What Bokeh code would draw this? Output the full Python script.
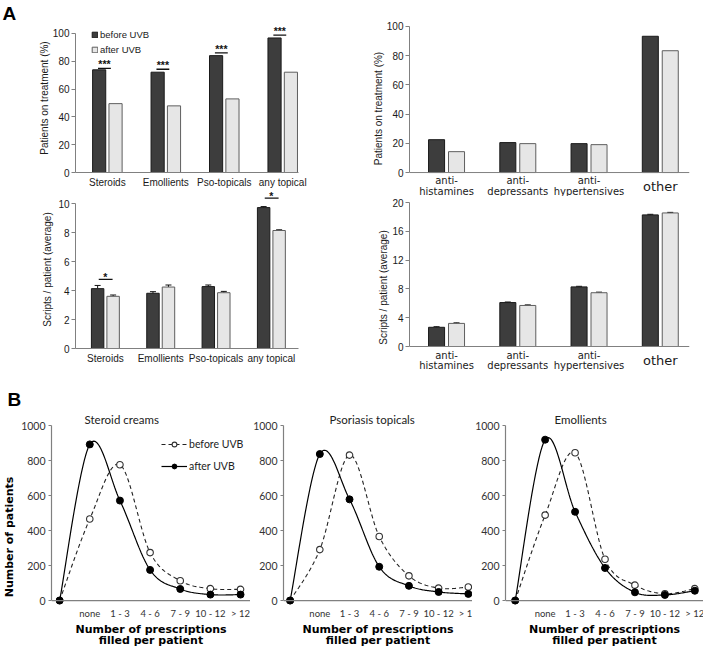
import numpy as np
from bokeh.plotting import figure
from bokeh.layouts import column, row
from bokeh.models import (ColumnDataSource, FixedTicker, Legend, LegendItem,
                          Whisker, TeeHead, Span, Title)
from bokeh.core.properties import value
from bokeh.embed import file_html
from bokeh.resources import INLINE

# ---------------- data ----------------
topical_cats = ["Steroids", "Emollients", "Pso-topicals", "any topical"]
topical_pct_before = [73.8, 72.1, 84.0, 96.7]
topical_pct_after = [49.5, 47.9, 52.9, 72.1]
pct_sig_text = ["***", "***", "***", "***"]
pct_sig_y = [74.8, 74.2, 86.0, 98.7]

other_cats = ["anti-\nhistamines", "anti-\ndepressants", "anti-\nhypertensives", "other"]
other_pct_before = [22.5, 20.5, 19.8, 93.3]
other_pct_after = [14.3, 19.8, 19.1, 83.4]

topical_scr_before = [4.13, 3.81, 4.27, 9.72]
topical_scr_before_err = [0.22, 0.11, 0.11, 0.07]
topical_scr_after = [3.60, 4.24, 3.85, 8.14]
topical_scr_after_err = [0.09, 0.14, 0.09, 0.05]
scr_sig_idx = [0, 3]
scr_sig_text = ["*", "*"]
scr_sig_y = [4.77, 10.37]

other_scr_before = [2.67, 6.10, 8.28, 18.28]
other_scr_before_err = [0.08, 0.08, 0.08, 0.08]
other_scr_after = [3.21, 5.70, 7.47, 18.55]
other_scr_after_err = [0.08, 0.08, 0.08, 0.08]

presc_cats = ["", "none", "1 - 3", "4 - 6", "7 - 9", "10 - 12", "> 12"]
presc_title = "Number of prescriptions\nfilled per patient"
steroid_before = [0, 466, 776, 274, 113, 68, 64]
steroid_after = [0, 892, 571, 175, 66, 34, 34]
psoriasis_before = [0, 291, 831, 366, 141, 71, 77]
psoriasis_after = [0, 837, 578, 193, 84, 49, 38]
emollient_before = [0, 488, 844, 236, 88, 39, 68]
emollient_after = [0, 919, 507, 186, 47, 32, 56]

# ---------------- styles ----------------
DARK_FILL, DARK_LINE = "#3d3d3d", "#1a1a1a"
LIGHT_FILL, LIGHT_LINE = "#e6e6e6", "#5e5e5e"
AXIS_COL = "#808080"
TXT = "#1a1a1a"
ARIAL = "Liberation Sans"
WIDE = "DejaVu Sans"
CAL = "Lato"


def base_fig(width, height, xr, yr, mbl, mbr, mbt, mbb):
    p = figure(width=width, height=height, x_range=xr, y_range=yr,
               output_backend="svg", toolbar_location=None,
               min_border_left=mbl, min_border_right=mbr,
               min_border_top=mbt, min_border_bottom=mbb)
    p.outline_line_color = None
    p.xgrid.grid_line_color = None
    p.ygrid.grid_line_color = None
    p.background_fill_color = "white"
    p.border_fill_color = "white"
    for ax in (p.xaxis[0], p.yaxis[0]):
        ax.axis_line_color = AXIS_COL
        ax.major_tick_line_color = AXIS_COL
        ax.minor_tick_line_color = None
        ax.major_label_text_color = TXT
    return p


def style_yaxis(p, yticks, ybound, ylabel, ylabel_standoff):
    ya = p.yaxis[0]
    ya.ticker = FixedTicker(ticks=yticks)
    ya.bounds = ybound
    ya.major_tick_out = 4
    ya.major_tick_in = 0
    ya.major_label_standoff = 2
    ya.major_label_text_font = ARIAL
    ya.major_label_text_font_size = "10px"
    ya.axis_label = ylabel
    ya.axis_label_text_font = ARIAL
    ya.axis_label_text_font_size = "10px"
    ya.axis_label_text_font_style = "normal"
    ya.axis_label_text_color = TXT
    ya.axis_label_standoff = ylabel_standoff


def bars(p, n, before, after, before_err=None, after_err=None, off=0.14, bw=0.225):
    idx = list(range(n))
    xb = [i - off for i in idx]
    xa = [i + off for i in idx]
    src = ColumnDataSource(dict(xb=xb, xa=xa, before=before, after=after))
    rb = p.vbar(x="xb", top="before", width=bw, bottom=0, source=src,
                fill_color=DARK_FILL, line_color=DARK_LINE, line_width=1)
    ra = p.vbar(x="xa", top="after", width=bw, bottom=0, source=src,
                fill_color=LIGHT_FILL, line_color=LIGHT_LINE, line_width=1)
    if before_err is not None:
        esrc = ColumnDataSource(dict(
            xb=xb, xa=xa,
            lb=before, ub=[v + e for v, e in zip(before, before_err)],
            la=after, ua=[v + e for v, e in zip(after, after_err)]))
        for b, lo, up in (("xb", "lb", "ub"), ("xa", "la", "ua")):
            p.add_layout(Whisker(source=esrc, base=b, lower=lo, upper=up,
                                 dimension="height", line_color="#111111", line_width=1,
                                 upper_head=TeeHead(size=6, line_color="#111111", line_width=1),
                                 lower_head=None))
    return rb, ra


def topical_panel(width, height, mbl, mbr, mbt, mbb, xr, yr, yticks, ybound,
                  before, after, ylabel, before_err=None, after_err=None, ylabel_standoff=0):
    p = base_fig(width, height, xr, yr, mbl, mbr, mbt, mbb)
    rb, ra = bars(p, len(topical_cats), before, after, before_err, after_err)
    xa_ = p.xaxis[0]
    xa_.ticker = FixedTicker(ticks=list(range(len(topical_cats))))
    xa_.major_label_overrides = {i: c for i, c in enumerate(topical_cats)}
    xa_.major_tick_out = 0
    xa_.major_tick_in = 0
    xa_.major_label_standoff = 4
    xa_.major_label_text_font = ARIAL
    xa_.major_label_text_font_size = "10px"
    style_yaxis(p, yticks, ybound, ylabel, ylabel_standoff)
    return p, rb, ra


def other_panel(width, height, mbl, mbr, mbt, xr, yr, yticks, ybound,
                before, after, ylabel, line_offsets, other_offset,
                before_err=None, after_err=None):
    p = base_fig(width, height, xr, yr, mbl, mbr, mbt, 0)
    bars(p, len(other_cats), before, after, before_err, after_err)
    p.xaxis.visible = False
    p.add_layout(Span(location=0, dimension="width", line_color=AXIS_COL, line_width=1))
    style_yaxis(p, yticks, ybound, ylabel, 0)
    two = [(i, c.split("\n")) for i, c in enumerate(other_cats) if "\n" in c]
    one = [(i, c) for i, c in enumerate(other_cats) if "\n" not in c]
    for k, off in enumerate(line_offsets):
        p.text(x=[i for i, _ in two], y=[0] * len(two), text=[parts[k] for _, parts in two],
               y_offset=off, text_align="center", text_baseline="middle",
               text_font=value(WIDE), text_font_size="10px", text_color=TXT)
    p.text(x=[i for i, _ in one], y=[0] * len(one), text=[c for _, c in one],
           y_offset=other_offset, text_align="center", text_baseline="middle",
           text_font=value(WIDE), text_font_size="13px", text_color=TXT)
    return p


# ---------- A1: patients on topical treatment ----------
a1, rb1, ra1 = topical_panel(352, 190, 74, 54, 22, 18, (-0.545, 3.27), (0, 107.1),
                             [0, 20, 40, 60, 80, 100], (0, 100),
                             topical_pct_before, topical_pct_after,
                             "Patients on treatment (%)")
for i, (t, y) in enumerate(zip(pct_sig_text, pct_sig_y)):
    a1.segment(x0=[i - 0.16], y0=[y], x1=[i + 0.06], y1=[y], line_color="#111111", line_width=1.3)
a1.text(x=[i - 0.05 for i in range(len(pct_sig_y))], y=pct_sig_y, text=pct_sig_text,
        y_offset=2, text_align="center", text_baseline="bottom",
        text_font=value(ARIAL), text_font_size="10.5px", text_font_style="bold",
        text_color="#111111")
leg = Legend(items=[LegendItem(label="before UVB", renderers=[rb1]),
                    LegendItem(label="after UVB", renderers=[ra1])],
             location=(16, 117), orientation="vertical")
leg.background_fill_alpha = 0
leg.border_line_color = None
leg.padding = 0
leg.margin = 0
leg.spacing = 4
leg.glyph_width = 7
leg.glyph_height = 7
leg.label_height = 9
leg.label_standoff = 2
leg.label_text_font = ARIAL
leg.label_text_font_size = "9.5px"
leg.label_text_color = TXT
a1.add_layout(leg)
a1.title.text = "A"
a1.title.align = "left"
a1.title.offset = -73
a1.title.standoff = 0
a1.title.text_font = ARIAL
a1.title.text_font_size = "19px"
a1.title.text_font_style = "bold"
a1.title.text_color = "black"

# ---------- A3: scripts per patient, topical ----------
a3, _, _ = topical_panel(352, 182, 75, 30, 0, 24, (-0.54, 3.49), (0, 10.9),
                         [0, 2, 4, 6, 8, 10], (0, 10),
                         topical_scr_before, topical_scr_after,
                         "Scripts / patient (average)",
                         before_err=topical_scr_before_err, after_err=topical_scr_after_err,
                         ylabel_standoff=2)
for i, y in zip(scr_sig_idx, scr_sig_y):
    a3.segment(x0=[i - 0.12], y0=[y], x1=[i + 0.13], y1=[y], line_color="#111111", line_width=1.3)
a3.text(x=scr_sig_idx, y=scr_sig_y, text=scr_sig_text, y_offset=4, text_align="center",
        text_baseline="bottom", text_font=value(ARIAL), text_font_size="10.5px",
        text_font_style="bold", text_color="#111111")

# ---------- A2 / A4: other treatments ----------
a2 = other_panel(351, 196, 57, 14, 20, (-0.52, 3.41), (-16.4, 104.1),
                 [0, 20, 40, 60, 80, 100], (0, 100),
                 other_pct_before, other_pct_after, "Patients on treatment (%)",
                 line_offsets=[8, 19], other_offset=14)
a4 = other_panel(351, 176, 57, 14, 6, (-0.52, 3.41), (-3.61, 20),
                 [0, 4, 8, 12, 16, 20], (0, 20),
                 other_scr_before, other_scr_after, "Scripts / patient (average)",
                 line_offsets=[9, 19], other_offset=14,
                 before_err=other_scr_before_err, after_err=other_scr_after_err)


# ---------- B: distribution curves ----------
def bezier_smooth(xs, ys, steps=30):
    pts = np.column_stack([xs, ys]).astype(float)
    n = len(pts)
    out = [pts[0]]
    t = np.linspace(0, 1, steps + 1)[1:, None]
    for i in range(n - 1):
        p0 = pts[max(i - 1, 0)]
        p1 = pts[i]
        p2 = pts[i + 1]
        p3 = pts[min(i + 2, n - 1)]
        c1 = p1 + (p2 - p0) / 6.0
        c2 = p2 - (p3 - p1) / 6.0
        seg = ((1 - t) ** 3) * p1 + 3 * ((1 - t) ** 2) * t * c1 + 3 * (1 - t) * t ** 2 * c2 + t ** 3 * p2
        out.extend(seg)
    out = np.array(out)
    return out[:, 0], out[:, 1]


def curve_panel(width, mbl, xr, title, title_offset, before, after,
                ylabel=None, legend=False, panel_letter=None):
    p = base_fig(width, 276, xr, (-274, 1000), mbl, 0, 53, 0)
    xs = list(range(len(presc_cats)))
    bx, by = bezier_smooth(xs, before)
    ax_, ay_ = bezier_smooth(xs, after)
    p.add_layout(Span(location=0, dimension="width", line_color=AXIS_COL, line_width=1.2))
    lb = p.line(bx, by, line_color="#222222", line_width=1.1, line_dash="4 3")
    sb = p.scatter(xs, before, marker="circle", size=6.5, fill_color="white",
                   line_color="#333333", line_width=1.1)
    la = p.line(ax_, ay_, line_color="black", line_width=1.2)
    sa = p.scatter(xs, after, marker="circle", size=7, fill_color="black",
                   line_color="black")
    p.xaxis.visible = False
    # category labels and axis title as text under the zero line
    p.text(x=xs[1:], y=[0] * (len(xs) - 1), text=presc_cats[1:], y_offset=13,
           text_align="center", text_baseline="middle", text_font=value(CAL),
           text_font_size="9.5px", text_color="#333333")
    xmid = (xr[0] + xr[1]) / 2.0
    for k, line_txt in enumerate(presc_title.split("\n")):
        p.text(x=[xmid], y=[0], text=[line_txt], y_offset=29 + 11 * k,
               text_align="center", text_baseline="middle", text_font=value(WIDE),
               text_font_size="11px", text_font_style="bold", text_color="black")
    ya = p.yaxis[0]
    ya.ticker = FixedTicker(ticks=[0, 200, 400, 600, 800, 1000])
    ya.bounds = (0, 1000)
    ya.axis_line_width = 1.2
    ya.major_tick_out = 3
    ya.major_tick_in = 0
    ya.major_label_standoff = 3
    ya.major_label_text_font = CAL
    ya.major_label_text_font_size = "10.5px"
    ya.major_label_text_color = "#333333"
    if ylabel:
        ya.axis_label = ylabel
        ya.axis_label_text_font = WIDE
        ya.axis_label_text_font_size = "11px"
        ya.axis_label_text_font_style = "bold"
        ya.axis_label_text_color = "black"
        ya.axis_label_standoff = 2
    if panel_letter:
        p.title.text = panel_letter
        p.title.align = "left"
        p.title.offset = -mbl
        p.title.standoff = 2
        p.title.text_font = ARIAL
        p.title.text_font_size = "19px"
        p.title.text_font_style = "bold"
        p.title.text_color = "black"
        p.add_layout(Title(text=title, align="left", offset=title_offset, standoff=0,
                           text_font=CAL, text_font_size="11.5px", text_font_style="normal",
                           text_color="#222222"), "above")
    else:
        p.title.text = title
        p.title.align = "left"
        p.title.offset = title_offset
        p.title.standoff = 0
        p.title.text_font = CAL
        p.title.text_font_size = "11.5px"
        p.title.text_font_style = "normal"
        p.title.text_color = "#222222"
    if legend:
        lg = Legend(items=[LegendItem(label="before UVB", renderers=[lb, sb]),
                           LegendItem(label="after UVB", renderers=[la, sa])],
                    location=(110, 176))
        lg.background_fill_alpha = 0
        lg.border_line_color = None
        lg.padding = 0
        lg.margin = 0
        lg.spacing = 10
        lg.glyph_width = 26
        lg.glyph_height = 12
        lg.label_height = 12
        lg.label_standoff = 2
        lg.label_text_font = CAL
        lg.label_text_font_size = "10.5px"
        lg.label_text_color = "#222222"
        p.add_layout(lg)
    return p


b1 = curve_panel(250, 44, (-0.27, 6.33), "Steroid creams", 33,
                 steroid_before, steroid_after, ylabel="Number of patients", legend=True,
                 panel_letter="B")
b2 = curve_panel(222, 31, (-0.223, 6.14), "Psoriasis topicals", 46,
                 psoriasis_before, psoriasis_after)
b3 = curve_panel(231, 33, (-0.324, 6.29), "Emollients", 49,
                 emollient_before, emollient_after)

layout = column(row(column(a1, a3), column(a2, a4)), row(b1, b2, b3))

open("out.html", "w").write(file_html(layout, INLINE))
